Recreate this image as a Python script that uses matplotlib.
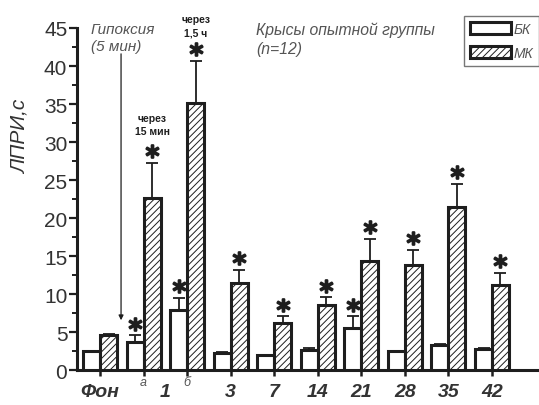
import numpy as np
import matplotlib
matplotlib.use('Agg')
import matplotlib.pyplot as plt
from matplotlib.patches import Patch

###################################################################
## data

groups   = ['Фон', 'а', 'б', '3', '7', '14', '21', '28', '35', '42']
bk_mean  = [2.5, 3.8, 7.9, 2.3, 2.0, 2.7, 5.6, 2.5, 3.3, 2.8]
bk_err   = [0.0, 0.8, 1.6, 0.1, 0.1, 0.2, 1.5, 0.0, 0.2, 0.2]
mk_mean  = [4.7, 22.7, 35.2, 11.5, 6.3, 8.6, 14.4, 13.8, 21.5, 11.2]
mk_err   = [0.1, 4.6, 5.5, 1.7, 0.8, 1.0, 2.9, 2.0, 3.0, 1.6]
bk_star  = [False, True, True, False, False, False, True, False, False, False]
mk_star  = [False, True, True, True, True, True, True, True, True, True]

## x tick labels: (position, text)
day_labels = [(0, 'Фон'), (1.5, '1'), (3, '3'), (4, '7'), (5, '14'),
              (6, '21'), (7, '28'), (8, '35'), (9, '42')]
sub_labels = [(1, 'а'), (2, 'б')]

###################################################################
## style
plt.rcParams['font.family'] = ['Liberation Sans', 'DejaVu Sans']
dark = '#1e1e1e'
grey = '#555555'
plt.rcParams['hatch.color'] = '#666666'
plt.rcParams['hatch.linewidth'] = 0.7

fig = plt.figure(figsize=(5.39, 4.06), dpi=100)
ax = fig.add_axes([0.143, 0.085, 0.853, 0.8436])

x = np.arange(len(groups))
w = 0.39

ax.bar(x - w/2, bk_mean, w, facecolor='white', edgecolor=dark, linewidth=2.2, zorder=3)
ax.bar(x + w/2, mk_mean, w, facecolor='white', edgecolor=dark, linewidth=2.2,
       hatch='/////', zorder=3)

ax.errorbar(x - w/2, bk_mean, yerr=[np.zeros(len(x)), bk_err], fmt='none',
            ecolor=dark, elinewidth=1.3, capsize=4, capthick=1.3, zorder=2)
ax.errorbar(x + w/2, mk_mean, yerr=[np.zeros(len(x)), mk_err], fmt='none',
            ecolor=dark, elinewidth=1.3, capsize=4, capthick=1.3, zorder=2)

## significance stars (centred ~11 px above the error cap)
star_off = 1.55
bk_top = np.array(bk_mean) + np.array(bk_err)
mk_top = np.array(mk_mean) + np.array(mk_err)
bs = np.array(bk_star)
ms = np.array(mk_star)
ax.plot(x[bs] - w/2, bk_top[bs] + star_off, ls='none', marker='$*$', ms=9,
        mfc=dark, mec=dark, mew=1.6, zorder=4)
ax.plot(x[ms] + w/2, mk_top[ms] + star_off, ls='none', marker='$*$', ms=9,
        mfc=dark, mec=dark, mew=1.6, zorder=4)

## notes above bars
ax.text(1 + w/2, 32.3, 'через\n15 мин', ha='center', va='center', fontsize=7.5,
        fontweight='bold', color=dark, linespacing=1.35)
ax.text(2 + w/2, 45.3, 'через\n1,5 ч', ha='center', va='center', fontsize=7.5,
        fontweight='bold', color=dark, linespacing=1.35)

## hypoxia arrow
ax.annotate('', xy=(0.48, 6.6), xytext=(0.48, 41.6),
            arrowprops=dict(arrowstyle='-|>', color=dark, lw=0.9,
                            mutation_scale=7, shrinkA=0, shrinkB=0))
ax.text(-0.22, 45.8, 'Гипоксия\n(5 мин)', ha='left', va='top', fontsize=11,
        style='italic', color=grey, linespacing=1.3)
ax.text(3.58, 45.8, 'Крысы опытной группы\n(n=12)', ha='left', va='top',
        fontsize=11.3, style='italic', color=grey, linespacing=1.3)

## axes
ax.set_xlim(-0.53, 10.03)
ax.set_ylim(0, 45)
ax.set_yticks(np.arange(0, 46, 5))
ax.set_yticks(np.arange(2.5, 45, 5), minor=True)
ax.set_xticks(x)
ax.set_xticklabels([])
for side in ['top', 'right']:
    ax.spines[side].set_visible(False)
for side in ['left', 'bottom']:
    ax.spines[side].set_linewidth(2.2)
    ax.spines[side].set_color(dark)
ax.tick_params(axis='y', which='major', length=6, width=1.6, labelsize=15,
               labelcolor='#333333', color=dark, pad=1)
ax.tick_params(axis='y', which='minor', length=3.5, width=1.4, color=dark)
ax.tick_params(axis='x', which='major', length=4.5, width=1.8, color=dark)

for pos, lab in day_labels:
    ax.text(pos, -2.8, lab, ha='center', va='center', fontsize=14, style='italic',
            fontweight='bold', color='#333333')
for pos, lab in sub_labels:
    ax.text(pos, -1.5, lab, ha='center', va='center', fontsize=9, style='italic',
            color=grey)

ax.set_ylabel('ЛПРИ,с', fontsize=15, style='italic', color='#333333')
ax.yaxis.set_label_coords(-0.103, 0.685)

## legend
handles = [Patch(facecolor='white', edgecolor=dark, linewidth=2.2, label='БК'),
           Patch(facecolor='white', edgecolor=dark, linewidth=2.2, hatch='/////', label='МК')]
leg = ax.legend(handles=handles, loc='upper right', bbox_to_anchor=(1.005, 1.035),
                frameon=True, fancybox=False, edgecolor='#555555', fontsize=10,
                handlelength=3.0, handleheight=0.9, handletextpad=0.2,
                borderpad=0.4, labelspacing=0.75, borderaxespad=0)
leg.get_frame().set_linewidth(1.0)
for t in leg.get_texts():
    t.set_style('italic')
    t.set_color(grey)

fig.savefig('out.png', dpi=100)
